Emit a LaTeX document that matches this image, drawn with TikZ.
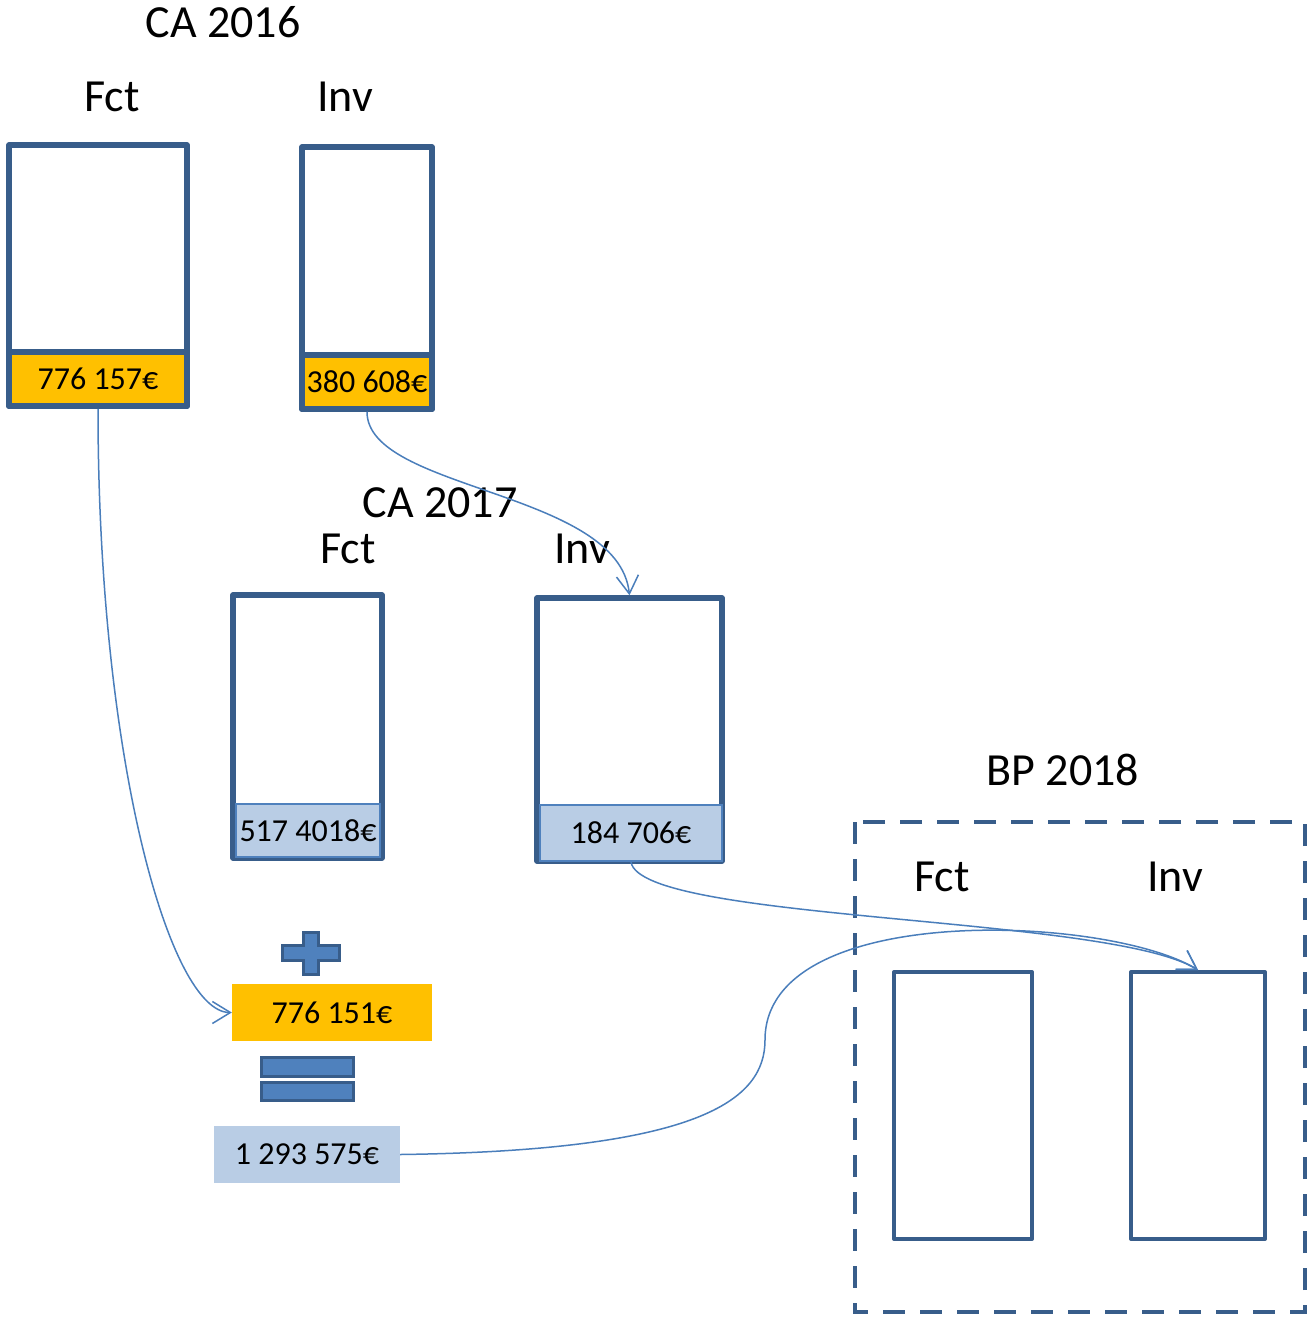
\documentclass[tikz,border=0pt]{standalone}
\usepackage{fontspec}
\setmainfont{Carlito}
\usepackage{tikz}
\usetikzlibrary{arrows.meta}
\definecolor{frameblue}{HTML}{385D8A}
\definecolor{fillblue}{HTML}{4F81BD}
\definecolor{lineblue}{HTML}{4A7EBB}
\definecolor{gold}{HTML}{FFC000}
\definecolor{paleblue}{HTML}{B9CDE5}

\begin{document}
\begin{tikzpicture}[x=1pt, y=-1pt,
    title/.style={font=\fontsize{46}{50}\selectfont, inner sep=0pt},
    colbox/.style={draw=frameblue, line width=5.5pt, line join=round, fill=white, inner sep=0pt},
    valbox/.style={font=\fontsize{32}{36}\selectfont, inner sep=0pt},
    link/.style={lineblue, line width=1.5pt, -{Straight Barb[length=18pt,width=22pt]}}]
    \useasboundingbox (0,0) rectangle (1308,1320);

    % CA 2016
    \node[title] (ca16) at (223,22) {CA 2016};
    \node[title] (tf16) at (112,97) {Fct};
    \node[title] (ti16) at (345,97) {Inv};
    \node[colbox, minimum width=178pt, minimum height=261pt] (f16) at (98,275.5) {};
    \node[colbox, minimum width=130pt, minimum height=262pt] (i16) at (367,278) {};
    \node[valbox, fill=gold, draw=frameblue, line width=5.5pt, line join=round, minimum width=178pt, minimum height=54pt] (vf16) at (98,379) {776 157€};
    \node[valbox, fill=gold, draw=frameblue, line width=5.5pt, line join=round, minimum width=130pt, minimum height=54pt] (vi16) at (367,382) {380 608€};

    % CA 2017
    \node[title] (ca17) at (440,503) {CA 2017};
    \node[title] (tf17) at (348,549) {Fct};
    \node[title] (ti17) at (582,549) {Inv};
    \node[colbox, minimum width=149pt, minimum height=263pt] (f17) at (307.5,726.5) {};
    \node[colbox, minimum width=185pt, minimum height=263pt] (i17) at (629.5,729.5) {};
    \node[valbox, fill=paleblue, draw=fillblue, line width=2pt, minimum width=144pt, minimum height=53pt] (vf17) at (308,830.5) {517 4018€};
    \node[valbox, fill=paleblue, draw=fillblue, line width=2pt, minimum width=182pt, minimum height=56pt] (vi17) at (631,833) {184 706€};

    % plus / equals
    \draw[fill=fillblue, draw=frameblue, line width=3pt] (303.5,932.5) -- (318.5,932.5) -- (318.5,945.5) -- (339.5,945.5) -- (339.5,960.5) -- (318.5,960.5) -- (318.5,974.5) -- (303.5,974.5) -- (303.5,960.5) -- (282.5,960.5) -- (282.5,945.5) -- (303.5,945.5) -- cycle;
    \node[valbox, fill=gold, minimum width=200pt, minimum height=57pt] (sum) at (332,1012.5) {776 151€};
    \draw[fill=fillblue, draw=frameblue, line width=3pt] (261.5,1057.5) rectangle (353.5,1076.5);
    \draw[fill=fillblue, draw=frameblue, line width=3pt] (261.5,1082.5) rectangle (353.5,1100.5);
    \node[valbox, fill=paleblue, minimum width=186pt, minimum height=57pt] (total) at (307,1154.5) {1 293 575€};

    % BP 2018
    \node[title] (bp18) at (1063,770) {BP 2018};
    \draw[frameblue, line width=4pt, dash pattern=on 22pt off 15pt] (855,822) rectangle (1305,1312);
    \node[title] (tf18) at (942,877) {Fct};
    \node[title] (ti18) at (1175,877) {Inv};
    \node[colbox, line width=4pt, minimum width=138pt, minimum height=267pt] (f18) at (963,1105.5) {};
    \node[colbox, line width=4pt, minimum width=134pt, minimum height=267pt] (i18) at (1198,1105.5) {};

    \coordinate (bend) at (765,1040);
    \draw[link] (vf16.south) .. controls +(0,351) and +(-62,0) .. (sum.west);
    \draw[link] (vi16.south) .. controls +(0,79) and +(-11,-105) .. (i17.north);
    \draw[link] (vi17.south) .. controls +(10,60) and +(-90,-55) .. (i18.north);
    \draw[link] (total.east) .. controls +(300,-4) and +(0,60) .. (bend) .. controls +(0,-140) and +(-90,-55) .. (i18.north);
\end{tikzpicture}
\end{document}
